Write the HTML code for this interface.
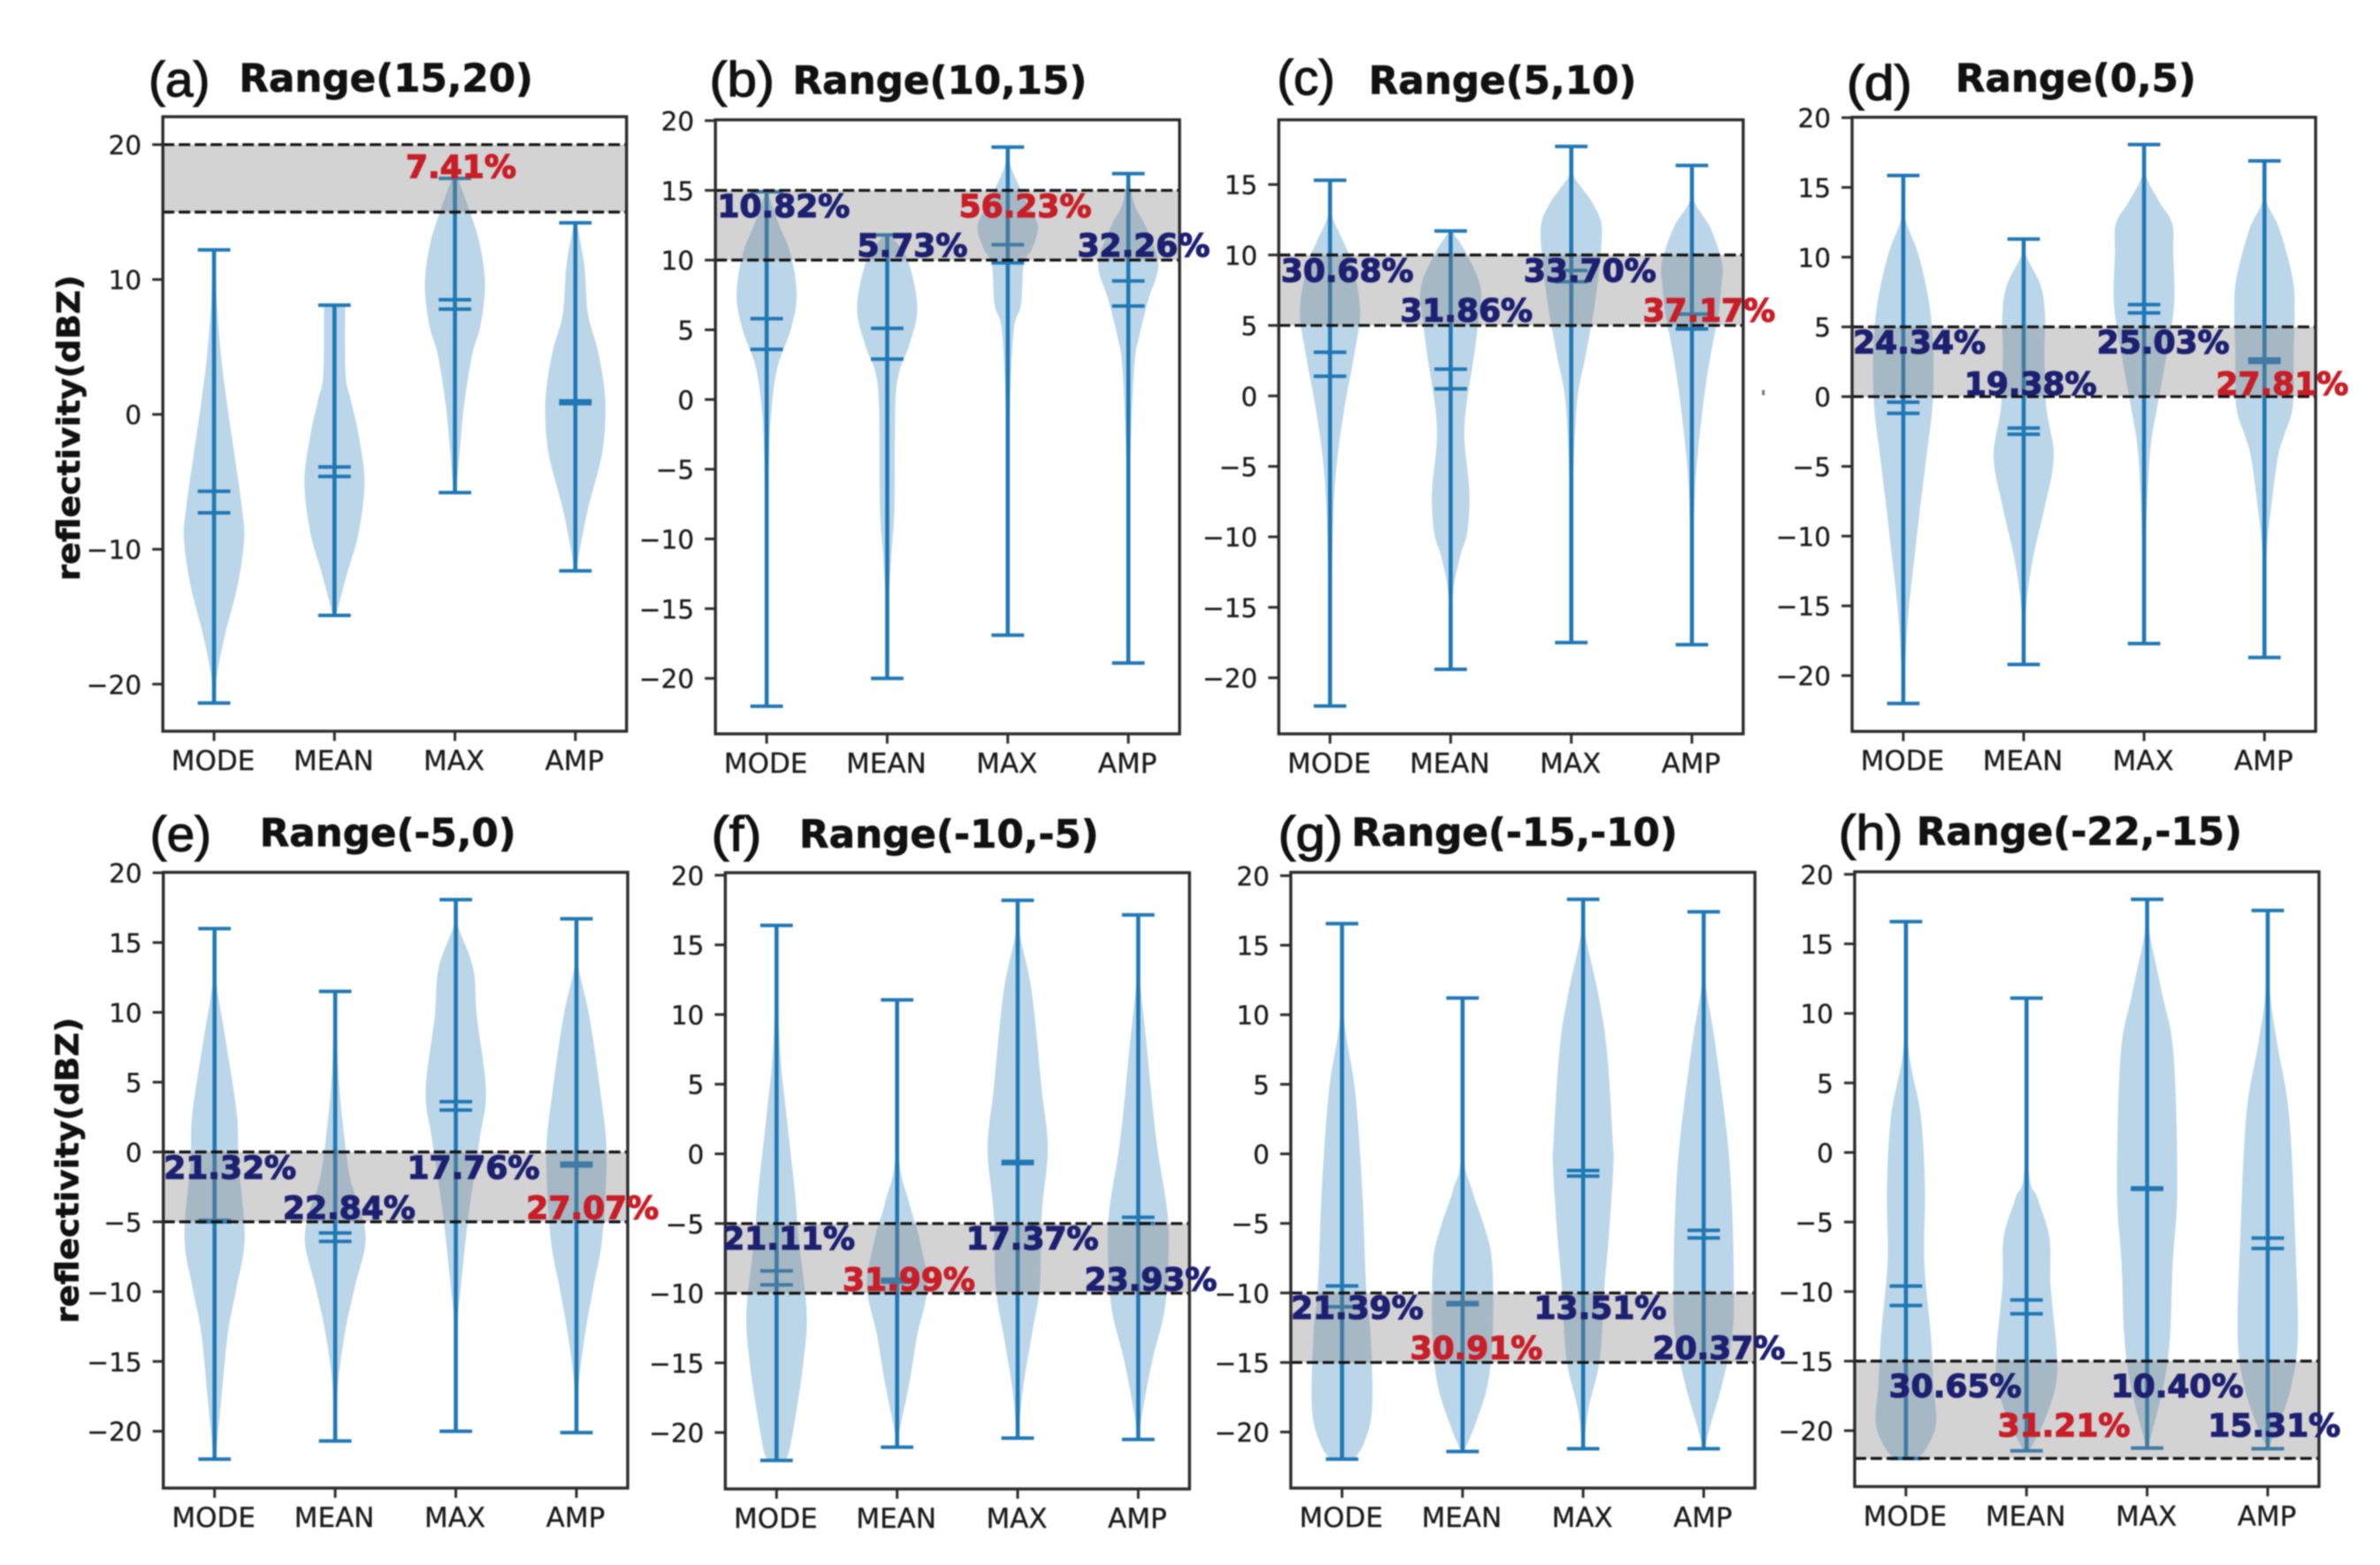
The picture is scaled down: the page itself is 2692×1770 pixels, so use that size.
<!DOCTYPE html>
<html lang="en">
<head>
<meta charset="utf-8">
<title>Reflectivity violin plots by range</title>
<style>
html,body{margin:0;padding:0;background:#fff;width:2692px;height:1770px;overflow:hidden}
svg{display:block;filter:blur(.9px)}
text{font-family:"DejaVu Sans","Liberation Sans",sans-serif}
</style>
</head>
<body>
<svg id="chart" xmlns="http://www.w3.org/2000/svg" width="2692" height="1770" viewBox="0 0 2692 1770">
<rect x="0" y="0" width="2692" height="1770" fill="#fff"/>
<rect x="1993" y="441" width="3" height="6" fill="#777"/>
</svg>
<script>
// ---------- data ----------
const categories = ['MODE', 'MEAN', 'MAX', 'AMP'];
const panelLetters = ['(a)', '(b)', '(c)', '(d)', '(e)', '(f)', '(g)', '(h)'];
const panelTitles = ['Range(15,20)', 'Range(10,15)', 'Range(5,10)', 'Range(0,5)', 'Range(-5,0)', 'Range(-10,-5)', 'Range(-15,-10)', 'Range(-22,-15)'];
const bandLow = [15, 10, 5, 0, -5, -10, -15, -22];
const bandHigh = [20, 15, 10, 5, 0, -5, -10, -15];
const yDomainTop = [22.07, 20.06, 19.59, 20.03, 20.03, 20.18, 20.24, 20.18];
const yDomainBottom = [-23.49, -23.98, -23.98, -24.0, -24.07, -24.05, -24.03, -24.02];
const xDomain = [0.575, 4.425];
const ticksCoarse = [-20, -10, 0, 10, 20];
const ticksFine = [-20, -15, -10, -5, 0, 5, 10, 15, 20];
const ticksNoTop = [-20, -15, -10, -5, 0, 5, 10, 15];
const yTicks = [ticksCoarse, ticksFine, ticksNoTop, ticksFine, ticksFine, ticksFine, ticksFine, ticksFine];

const whiskerMax = [
  [12.2, 8.1, 17.5, 14.2],
  [14.9, 11.8, 18.1, 16.2],
  [15.3, 11.7, 17.7, 16.35],
  [15.85, 11.3, 18.07, 16.9],
  [16, 11.5, 18.07, 16.7],
  [16.4, 11.05, 18.2, 17.15],
  [16.55, 11.2, 18.3, 17.4],
  [16.6, 11.1, 18.2, 17.4]
];
const whiskerMin = [
  [-21.4, -14.9, -5.8, -11.6],
  [-22, -20, -16.9, -18.9],
  [-22, -19.4, -17.5, -17.65],
  [-22, -19.2, -17.7, -18.7],
  [-22, -20.7, -20, -20.1],
  [-22, -21.05, -20.4, -20.5],
  [-21.95, -21.4, -21.2, -21.2],
  [-22, -21.45, -21.25, -21.3]
];
const statUpper = [
  [-5.7, -3.9, 8.5, 1.0],
  [5.8, 5.1, 11.1, 8.5],
  [3.1, 1.9, 8.9, 5.8],
  [-0.4, -2.25, 6.6, 2.7],
  [-4.9, -5.8, 3.6, -0.8],
  [-8.4, -9, -0.55, -4.55],
  [-9.5, -10.7, -1.2, -5.5],
  [-9.6, -10.6, -2.55, -6.15]
];
const statLower = [
  [-7.3, -4.6, 7.8, 0.8],
  [3.6, 2.9, 9.8, 6.7],
  [1.4, 0.5, 8.1, 4.75],
  [-1.2, -2.7, 6.0, 2.45],
  [-5.0, -6.4, 3.0, -1.0],
  [-9.4, -9.2, -0.7, -5.0],
  [-11, -10.85, -1.6, -6.05],
  [-11, -11.6, -2.65, -6.9]
];
const percentLabels = [
  ['', '', '7.41%', ''],
  ['10.82%', '5.73%', '56.23%', '32.26%'],
  ['30.68%', '31.86%', '33.70%', '37.17%'],
  ['24.34%', '19.38%', '25.03%', '27.81%'],
  ['21.32%', '22.84%', '17.76%', '27.07%'],
  ['21.11%', '31.99%', '17.37%', '23.93%'],
  ['21.39%', '30.91%', '13.51%', '20.37%'],
  ['30.65%', '31.21%', '10.40%', '15.31%']
];
const highlightedCategory = [2, 2, 3, 3, 3, 1, 1, 1];

// violin outlines: dBZ levels and relative density at each level, per panel and category
const violinLevels = [
  [[12.2,8,4,0.5,-3,-7,-9.2,-12.5,-16.3,-19.3,-21.4],[8.1,3,1,-1.5,-5,-8.8,-11.8,-14.9],[17.5,15,12.6,9.6,6.6,4.4,0.6,-3,-5.8],[14.2,11,7.4,5,2.5,0.2,-3,-7,-10,-11.6]],
  [[14.9,12.6,10.4,7.5,5,2.4,-0.5,-4,-11,-22],[11.8,10,6.6,3.9,2,-0.5,-7.7,-11.4,-15,-20],[18.1,16.6,14,12.4,10.8,9.7,6.8,5,-0.5,-8,-16.9],[16.2,14,12.3,9.7,7.2,4.6,2.4,-4,-11,-18.9]],
  [[15.3,13,11,9.4,6.1,2.9,-0.7,-4.3,-8,-15,-22],[11.7,10,7.6,5,2.9,-0.7,-3.2,-6.8,-9.7,-11.5,-14.4,-19.4],[17.7,15.8,14.7,13.7,12.2,10,6.5,2.9,-0.7,-8,-17.5],[16.35,14,11.9,9.4,7.9,5.8,2.9,-0.7,-6,-11.5,-17.65]],
  [[15.85,13,10.2,6.6,3,-0.7,-4.3,-8,-11.6,-15.3,-18.9,-22],[11.3,10.2,8,5.9,3,-0.7,-4.3,-8,-11.6,-15.3,-19.2],[18.07,16,14,12.4,10.2,6.6,3,-0.7,-4.3,-11.6,-17.7],[16.9,14.2,12,8.4,5.9,3,-0.7,-2.8,-4.3,-8,-11.6,-18.7]],
  [[16,12.5,8,2.7,-0.8,-6.1,-9.6,-13,-18.3,-22],[11.5,6,2.3,-1.9,-4.4,-6.6,-9.6,-13,-16.7,-20.7],[18.07,16.4,13.2,9.7,4.4,0.9,-4.4,-9.6,-13,-20],[16.7,13.6,9.7,4.4,-0.1,-6.1,-9.6,-13,-16.7,-20.1]],
  [[16.4,8,2.8,-2.5,-6,-11.3,-14.8,-18.3,-21.5,-22],[11.05,0.35,-3.5,-6,-9.5,-13,-16.5,-20,-21.05],[18.2,15.8,11.6,4.6,0.35,-4.2,-9.5,-13,-16.5,-19.7,-20.4],[17.15,13,8,1,-4.2,-7.7,-11.3,-14.8,-18.3,-20.5]],
  [[16.55,9.9,4.6,-2.5,-9.5,-13,-18.3,-20.8,-21.95],[11.2,0.35,-2.5,-5.3,-7.8,-13,-16.6,-19.4,-21.4],[18.3,15.9,11.6,7.4,1,-1,-6,-9.5,-14.8,-18.3,-21.2],[17.4,12.7,8.1,1,-4.2,-9.5,-13,-16.6,-19.4,-21.2]],
  [[16.6,8,2.7,-2.6,-7.9,-13.2,-16.7,-19.5,-21.3,-22],[11.1,-0.8,-3.3,-6.1,-9.6,-14.2,-16.7,-19.2,-21.45],[18.2,16,11.5,7,-2.6,-7.9,-13.2,-16.7,-20.2,-21.25],[17.4,11.9,8,2.7,-6.1,-13.2,-16.7,-19.2,-20.9]]
];
const violinDensity = [
  [[0.03,0.1,0.25,0.45,0.68,0.93,1,0.8,0.37,0.1,0.02],[0.35,0.37,0.55,0.8,1,0.8,0.42,0.05],[0.1,0.5,0.83,1,0.85,0.57,0.3,0.15,0.04],[0.05,0.3,0.42,0.72,0.93,1,0.88,0.42,0.15,0.03]],
  [[0.03,0.4,0.8,1,0.8,0.37,0.17,0.08,0.03,0.01],[0.1,0.68,1,0.73,0.4,0.27,0.24,0.13,0.04,0.01],[0.01,0.12,0.67,1,0.8,0.53,0.44,0.2,0.07,0.02,0.01],[0.01,0.2,0.6,1,0.67,0.37,0.2,0.07,0.03,0.01]],
  [[0.01,0.04,0.43,0.73,1,0.8,0.49,0.25,0.12,0.04,0.01],[0.04,0.55,1,0.9,0.78,0.52,0.46,0.62,0.55,0.3,0.06,0.01],[0.01,0.05,0.37,0.7,1,0.97,0.78,0.48,0.18,0.04,0.01],[0.01,0.04,0.62,1,0.98,0.88,0.62,0.37,0.12,0.04,0.01]],
  [[0.01,0.04,0.5,0.87,1,0.97,0.77,0.56,0.37,0.18,0.07,0.01],[0.01,0.06,0.56,0.71,0.69,0.75,1,0.69,0.31,0.07,0.01],[0.01,0.04,0.5,0.94,0.97,1,0.75,0.44,0.19,0.04,0.01],[0.01,0.04,0.5,0.94,1,0.97,0.94,0.65,0.45,0.22,0.06,0.01]],
  [[0.01,0.04,0.37,0.74,0.8,1,0.74,0.44,0.2,0.03],[0.01,0.1,0.24,0.5,0.88,1,0.66,0.32,0.09,0.01],[0.01,0.04,0.57,0.7,1,0.79,0.43,0.17,0.04,0.01],[0.01,0.04,0.43,0.79,1,0.86,0.57,0.29,0.07,0.01]],
  [[0.01,0.1,0.33,0.6,0.73,1,0.9,0.67,0.4,0.2],[0.01,0.04,0.4,0.73,1,0.67,0.4,0.07,0.01],[0.01,0.07,0.47,0.8,1,0.8,0.73,0.47,0.2,0.04,0.01],[0.01,0.04,0.27,0.6,0.97,1,0.87,0.47,0.16,0.01]],
  [[0.01,0.06,0.43,0.67,0.8,0.95,1,0.73,0.4],[0.01,0.04,0.3,0.73,0.98,1,0.83,0.43,0.05],[0.01,0.06,0.49,0.79,0.98,1,0.85,0.71,0.55,0.18,0.01],[0.01,0.04,0.37,0.79,0.95,1,0.95,0.61,0.24,0.02]],
  [[0.01,0.06,0.49,0.63,0.61,0.83,0.91,1,0.67,0.36],[0.01,0.06,0.37,0.76,0.8,1,0.97,0.61,0.1],[0.01,0.06,0.49,0.88,1,0.85,0.76,0.55,0.15,0.02],[0.01,0.06,0.3,0.71,0.91,1,0.79,0.43,0.1]]
];

// ---------- layout (pixels, kept apart from the data) ----------
const panelLeft = [184.2, 809.2, 1446.4, 2094.9, 184.7, 820.4, 1460, 2097.8];
const panelRight = [708.7, 1334.2, 1971.7, 2619.2, 710, 1345.4, 1985, 2623];
const panelTop = [132, 135.5, 135.5, 132.6, 986.6, 987, 986.6, 986];
const panelBottom = [827, 830, 830, 827.2, 1683, 1684, 1683, 1681.3];
const letterSpans = [[168,237.5,109],[802.5,876,109],[1444.4,1510,107],[2088.6,2162.7,113],[169.7,239,962.7],[804.7,861.4,962.7],[1445.6,1519,962.7],[2079.5,2152.3,961]];
const titleSpans = [[270.4,603,103.3],[896.5,1229.5,106.2],[1548,1851,106.2],[2211.8,2484,103.3],[293.7,583.7,957.2],[904,1242.9,958.3],[1528.6,1897.4,956.6],[2167.7,2536,955.5]];
const labelPlacement = [
  [null, null, [459,200.9], null],
  [[811.4,245.7],[969.5,289.9],[1084.6,245.7],[1218.6,289.9]],
  [[1448.9,318.6],[1583.7,363.4],[1723.4,318.6],[1858.1,363.4]],
  [[2096,399.5],[2221.7,446.6],[2371.8,399.5],[2506.5,446.6]],
  [[185.2,1332.9],[319.9,1378.4],[460.5,1332.9],[595.3,1378.4]],
  [[817.2,1412.8],[953,1459.4],[1092.7,1412.8],[1226.6,1459.4]],
  [[1460.1,1491.6],[1594.9,1537],[1735,1491.6],[1869.3,1537]],
  [[2136.5,1579.8],[2259.5,1624.7],[2387.6,1579.8],[2497.4,1624.7]]
];
const yAxisTitleSpots = [[90, 484, 0], [88.7, 1323.7, 4]];

// ---------- drawing ----------
const svg = document.getElementById('chart');
const NS = 'http://www.w3.org/2000/svg';
function make(tag, attrs, parent) {
  const el = document.createElementNS(NS, tag);
  for (const k in attrs) el.setAttribute(k, attrs[k]);
  (parent || svg).appendChild(el);
  return el;
}
function smoothSide(points) {
  let d = '';
  for (let i = 0; i < points.length - 1; i++) {
    const p0 = points[Math.max(i - 1, 0)], p1 = points[i], p2 = points[i + 1], p3 = points[Math.min(i + 2, points.length - 1)];
    const c1x = p1[0] + (p2[0] - p0[0]) / 6, c1y = p1[1] + (p2[1] - p0[1]) / 6;
    const c2x = p2[0] - (p3[0] - p1[0]) / 6, c2y = p2[1] - (p3[1] - p1[1]) / 6;
    d += 'C' + c1x.toFixed(1) + ' ' + c1y.toFixed(1) + ' ' + c2x.toFixed(1) + ' ' + c2y.toFixed(1) + ' ' + p2[0].toFixed(1) + ' ' + p2[1].toFixed(1);
  }
  return d;
}
const blue = '#1f77b4';

panelTitles.forEach(function (title, p) {
  const L = panelLeft[p], R = panelRight[p], T = panelTop[p], B = panelBottom[p];
  const xScale = function (v) { return L + (v - xDomain[0]) / (xDomain[1] - xDomain[0]) * (R - L); };
  const yScale = function (v) { return T + (yDomainTop[p] - v) / (yDomainTop[p] - yDomainBottom[p]) * (B - T); };
  const step = xScale(2) - xScale(1);
  const tag = panelLetters[p].charAt(1);

  const g = make('g', {});
  
  

  // violins and stat lines
  categories.forEach(function (cat, c) {
    const cx = xScale(c + 1);
    const lv = violinLevels[p][c], dn = violinDensity[p][c];
    const right = lv.map(function (v, i) { return [cx + dn[i] * step * 0.25, yScale(v)]; });
    const left = lv.map(function (v, i) { return [cx - dn[i] * step * 0.25, yScale(v)]; }).reverse();
    const body = make('path', { d: 'M' + right[0][0].toFixed(1) + ' ' + right[0][1].toFixed(1) + smoothSide(right) + 'L' + left[0][0].toFixed(1) + ' ' + left[0][1].toFixed(1) + smoothSide(left) + 'Z', fill: blue, 'fill-opacity': 0.3 }, g);
    
    

    const stem = make('line', { x1: cx, x2: cx, y1: yScale(whiskerMax[p][c]), y2: yScale(whiskerMin[p][c]), stroke: blue, 'stroke-width': 4.6 }, g);
    
    

    const capSeries = [whiskerMax[p][c], whiskerMin[p][c], statUpper[p][c], statLower[p][c]];
    capSeries.forEach(function (val, k) {
      const cap = make('line', { x1: cx - step * 0.135, x2: cx + step * 0.135, y1: yScale(val), y2: yScale(val), stroke: blue, 'stroke-width': 4 }, g);
      
      
    });
  });

  // shaded range band and dashed bounds sit over the violins
  const band = make('rect', { x: L, width: R - L, y: yScale(bandHigh[p]), height: yScale(bandLow[p]) - yScale(bandHigh[p]), fill: '#808080', 'fill-opacity': 0.35 }, g);
  
  
  [bandHigh[p], bandLow[p]].forEach(function (val) {
    const dash = make('line', { x1: L, x2: R, y1: yScale(val), y2: yScale(val), stroke: '#111', 'stroke-width': 3.2, 'stroke-dasharray': '13 5' }, g);
    
    
  });

  // frame
  const frame = make('rect', { x: L, y: T, width: R - L, height: B - T, fill: 'none', stroke: '#2b2b2b', 'stroke-width': 3.4 }, g);
  
  

  // y axis
  yTicks[p].forEach(function (v) {
    const y = yScale(v);
    const tick = make('line', { x1: L - 12, x2: L, y1: y, y2: y, stroke: '#2b2b2b', 'stroke-width': 3 }, g);
    
    
    const lab = make('text', { x: L - 24, y: y + 11, 'text-anchor': 'end', 'font-size': 29.5, fill: '#1a1a1a', stroke: '#1a1a1a', 'stroke-width': 0.3 }, g);
    
    
    lab.textContent = (v < 0 ? '\u2212' + (-v) : '' + v);
  });

  // x axis
  categories.forEach(function (cat, c) {
    const x = xScale(c + 1);
    const tick = make('line', { x1: x, x2: x, y1: B, y2: B + 11, stroke: '#2b2b2b', 'stroke-width': 3 }, g);
    
    
    const lab = make('text', { x: x - 1, y: B + 44, 'text-anchor': 'middle', 'font-size': 31, fill: '#1a1a1a', stroke: '#1a1a1a', 'stroke-width': 0.3 }, g);
    
    
    lab.textContent = cat;
  });

  // panel letter and title
  const ls = letterSpans[p];
  const letter = make('text', { x: ls[0], y: ls[2], 'font-size': 56, fill: '#111', stroke: '#111', 'stroke-width': 1.2, textLength: ls[1] - ls[0], lengthAdjust: 'spacingAndGlyphs', style: 'font-family:"Liberation Sans",sans-serif' }, g);
  
  
  letter.textContent = panelLetters[p];

  const ts = titleSpans[p];
  const head = make('text', { x: ts[0], y: ts[2], 'font-size': 44, 'font-weight': 'bold', fill: '#111', stroke: '#111', 'stroke-width': 0.7, textLength: ts[1] - ts[0], lengthAdjust: 'spacingAndGlyphs' }, g);
  
  
  head.textContent = title;

  // percentages
  percentLabels[p].forEach(function (txt, c) {
    if (!txt) return;
    const spot = labelPlacement[p][c];
    const color = c === highlightedCategory[p] ? '#c81e28' : '#1d2070';
    const pct = make('text', { x: spot[0], y: spot[1], 'font-size': 36, 'font-weight': 'bold', fill: color, stroke: color, 'stroke-width': 1.3 }, g);
    
    
    pct.textContent = txt;
  });
});

yAxisTitleSpots.forEach(function (s) {
  const axisTitle = make('text', { x: 0, y: 0, transform: 'translate(' + s[0] + ' ' + s[1] + ') rotate(-90)', 'text-anchor': 'middle', 'font-size': 36, 'font-weight': 'bold', fill: '#111', stroke: '#111', 'stroke-width': 0.6, textLength: 346, lengthAdjust: 'spacingAndGlyphs' });
  
  
  axisTitle.textContent = 'reflectivity(dBZ)';
});
</script>
</body>
</html>
